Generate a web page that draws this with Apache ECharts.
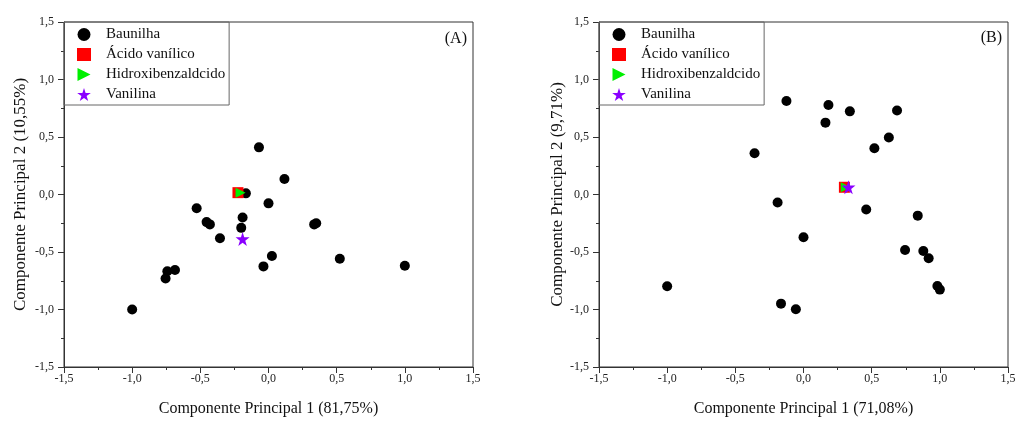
<!DOCTYPE html>
<html>
<head>
<meta charset="utf-8">
<script src="https://cdn.jsdelivr.net/npm/echarts@6/dist/echarts.min.js"></script>
<style>
  html, body { margin: 0; padding: 0; background: #fff; }
  #chart { width: 1016px; height: 421px; }
</style>
</head>
<body>
<div id="chart"></div>
<script>
// painel (A)
const baunilhaA = [
  [-0.07, 0.41], [0.117, 0.135], [-0.166, 0.01], [0.0, -0.077], [-0.527, -0.12],
  [-0.454, -0.24], [-0.43, -0.26], [-0.19, -0.2], [-0.2, -0.29], [-0.356, -0.38],
  [0.335, -0.26], [0.35, -0.25], [0.025, -0.535], [-0.037, -0.625], [0.523, -0.558],
  [1.0, -0.62], [-0.742, -0.668], [-0.686, -0.656], [-0.755, -0.73], [-1.0, -1.0]
];
const acidoA = [[-0.224, 0.016]];
const hidroxiA = [[-0.205, 0.016]];
const vanilinaA = [[-0.19, -0.387]];

// painel (B)
const baunilhaB = [
  [-0.359, 0.358], [-0.125, 0.813], [0.183, 0.778], [0.161, 0.625], [0.34, 0.723],
  [0.686, 0.73], [0.626, 0.495], [0.52, 0.402], [-0.19, -0.07], [0.46, -0.13],
  [0.838, -0.184], [0.0, -0.372], [0.745, -0.482], [0.879, -0.491], [0.918, -0.555],
  [0.982, -0.795], [1.0, -0.827], [-1.0, -0.798], [-0.165, -0.949], [-0.056, -0.998]
];
const acidoB = [[0.30, 0.063]];
const hidroxiB = [[0.31, 0.063]];
const vanilinaB = [[0.33, 0.063]];

const nomes = ['Baunilha', 'Ácido vanílico', 'Hidroxibenzaldcido', 'Vanilina'];
const xNomes = ['Componente Principal 1 (81,75%)', 'Componente Principal 1 (71,08%)'];
const yNomes = ['Componente Principal 2 (10,55%)', 'Componente Principal 2 (9,71%)'];
const paineis = ['(A)', '(B)'];

const fonte = '"Liberation Serif", "DejaVu Serif", serif';
const estrela = 'path://M50 0 L61.17 34.63 L97.55 34.55 L68.07 55.87 L79.39 90.45 L50 69 L20.61 90.45 L31.93 55.87 L2.45 34.55 L38.83 34.63 Z';
const triDireita = 'path://M0 0 L10 5 L0 10 Z';

function fmt(v) {
  return v.toFixed(1).replace('.', ',');
}

function eixo(idx, nome, vertical, gap) {
  return {
    type: 'value',
    gridIndex: idx,
    min: -1.5,
    max: 1.5,
    interval: 0.5,
    name: nome,
    nameLocation: 'middle',
    nameGap: gap,
    nameTextStyle: { fontFamily: fonte, fontSize: vertical ? 17 : 16, color: '#111' },
    axisLine: { show: true, onZero: false, lineStyle: { color: '#333', width: 1 } },
    axisTick: { show: true, inside: false, length: 6, lineStyle: { color: '#333' } },
    minorTick: { show: true, splitNumber: 2, length: 3, lineStyle: { color: '#333' } },
    splitLine: { show: false },
    axisLabel: { formatter: fmt, fontFamily: fonte, fontSize: 12, color: '#222', margin: vertical ? 10 : 6 }
  };
}

const grupos = [
  [baunilhaA, acidoA, hidroxiA, vanilinaA],
  [baunilhaB, acidoB, hidroxiB, vanilinaB]
];

const estilos = [
  { symbol: 'circle', symbolSize: 10, color: '#000000' },
  { symbol: 'rect', symbolSize: 11, color: '#ff0000' },
  { symbol: triDireita, symbolSize: 10, color: '#00f000' },
  { symbol: estrela, symbolSize: 14, color: '#8a00ff' }
];

const series = [];
grupos.forEach((g, gi) => {
  g.forEach((dados, si) => {
    const e = estilos[si];
    series.push({
      name: nomes[si],
      type: 'scatter',
      xAxisIndex: gi,
      yAxisIndex: gi,
      data: dados,
      symbol: e.symbol,
      symbolSize: e.symbolSize,
      itemStyle: { color: e.color, opacity: 1 },
      emphasis: { disabled: true }
    });
  });
});

const legendas = [64, 599].map((esq) => ({
  orient: 'vertical',
  left: esq,
  top: 22,
  data: nomes,
  selectedMode: false,
  borderColor: '#666',
  borderWidth: 1,
  padding: [5, 4, 3, 13],
  itemWidth: 14,
  itemHeight: 13,
  itemGap: 5,
  textStyle: { fontFamily: fonte, fontSize: 15, color: '#111', lineHeight: 14, padding: [0, 0, 0, 10] }
}));

const chart = echarts.init(document.getElementById('chart'));
chart.setOption({
  animation: false,
  backgroundColor: '#fff',
  grid: [
    { left: 64, right: 543, top: 22, bottom: 54, show: true, borderColor: '#333', borderWidth: 1, outerBoundsMode: 'none' },
    { left: 599, right: 8, top: 22, bottom: 54, show: true, borderColor: '#333', borderWidth: 1, outerBoundsMode: 'none' }
  ],
  xAxis: [eixo(0, xNomes[0], false, 34), eixo(1, xNomes[1], false, 34)],
  yAxis: [eixo(0, yNomes[0], true, 35), eixo(1, yNomes[1], true, 33)],
  legend: legendas,
  graphic: [
    { type: 'text', right: 1016 - 467, top: 31, style: { text: paineis[0], font: '16px ' + fonte, fill: '#111' } },
    { type: 'text', right: 1016 - 1002, top: 30, style: { text: paineis[1], font: '16px ' + fonte, fill: '#111' } }
  ],
  series: series
});
</script>
</body>
</html>
